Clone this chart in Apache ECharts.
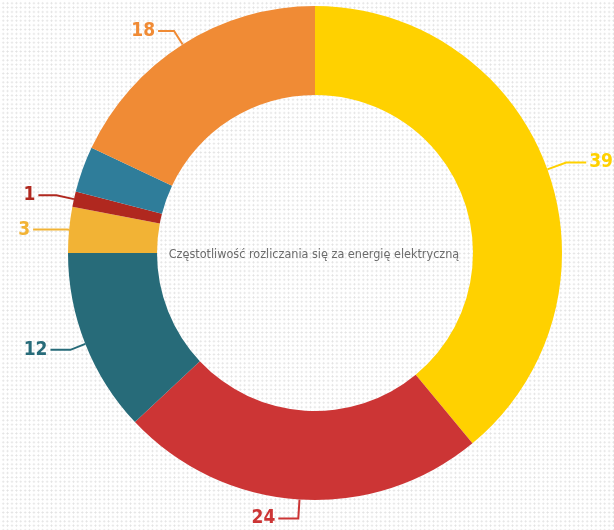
<!DOCTYPE html>
<html>
<head>
<meta charset="utf-8">
<script src="https://cdn.jsdelivr.net/npm/echarts@6/dist/echarts.min.js"></script>
<style>
html,body{margin:0;padding:0;width:614px;height:530px;overflow:hidden;}
body{background-color:#fff;background-image:radial-gradient(circle, #e2e2e2 0.8px, rgba(255,255,255,0) 1.1px);background-size:4.4px 4.4px;background-position:1px 1px;}
#chart{width:614px;height:530px;}
</style>
</head>
<body>
<div id="chart"></div>
<script>
const title = 'Częstotliwość rozliczania się za energię elektryczną';
const categories = ['A', 'B', 'C', 'D', 'E', 'F', 'G'];
const values = [39, 24, 12, 3, 1, 3, 18];
const showLabel = [true, true, true, true, true, false, true];
const colors = ['#FFD100', '#CC3535', '#276B79', '#F2B335', '#B0281F', '#2F7D9A', '#F08B35'];
const lineLen = [[20, 20], [19, 20], [16, 20], [2, 34], [18, 18], [10, 10], [16, 16]];

const chart = echarts.init(document.getElementById('chart'), null, {renderer: 'canvas'});
const data = categories.map((c, i) => ({
  name: c,
  value: values[i],
  itemStyle: {color: colors[i]},
  label: {show: showLabel[i], color: colors[i]},
  labelLine: {show: showLabel[i], length: lineLen[i][0], length2: lineLen[i][1], lineStyle: {color: colors[i], width: 2}}
}));
chart.setOption({
  backgroundColor: 'transparent',
  animation: false,
  graphic: [{
    type: 'text', x: 314, y: 255,
    style: {text: title, fill: '#6b6b6b', font: '12.5px "DejaVu Sans Condensed", sans-serif', align: 'center', verticalAlign: 'middle'}
  }],
  series: [{
    type: 'pie',
    center: [315, 253],
    radius: [158, 247],
    startAngle: 90,
    clockwise: true,
    avoidLabelOverlap: false,
    label: {
      formatter: '{c}',
      fontFamily: '"DejaVu Sans Condensed", sans-serif',
      fontWeight: 'bold',
      fontSize: 19,
      distanceToLabelLine: 3
    },
    labelLine: {smooth: false},
    emphasis: {disabled: true},
    data: data
  }]
});
</script>
</body>
</html>
